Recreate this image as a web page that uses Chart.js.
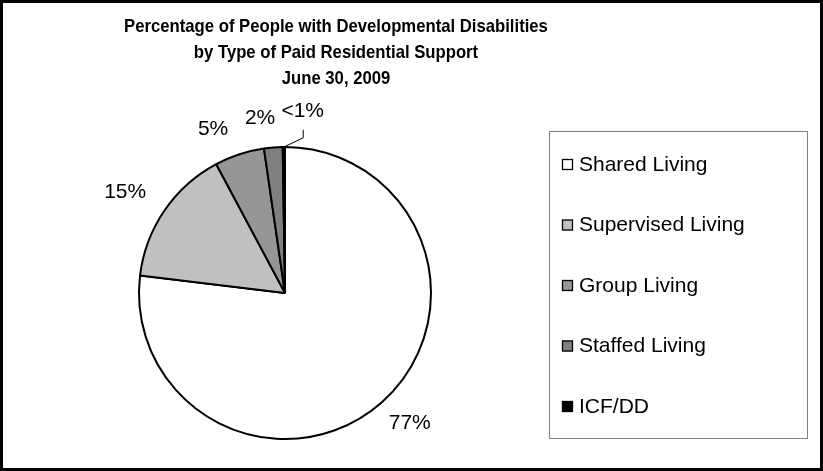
<!DOCTYPE html>
<html lang="en">
<head>
  <meta charset="UTF-8">
  <title>Paid Residential Support</title>
  <script src="https://cdn.jsdelivr.net/npm/chart.js"></script>
  <style>
    html, body { margin: 0; padding: 0; background: #fff; }
    canvas { display: block; }
  </style>
</head>
<body>
<canvas id="pieChart" width="823" height="471"></canvas>

<script>
  // data
  const categories = ['Shared Living', 'Supervised Living', 'Group Living', 'Staffed Living', 'ICF/DD'];
  const shares = [76.9, 15.3, 5.5, 2.05, 0.25];
  const pctLabels = ['77%', '15%', '5%', '2%', '<1%'];
  const titleLines = [
    'Percentage of People with Developmental Disabilities',
    'by Type of Paid Residential Support',
    'June 30, 2009'
  ];
  const sliceColors = ['#ffffff', '#c0c0c0', '#969696', '#808080', '#000000'];

  const FONT = '"Liberation Sans", Arial, sans-serif';

  // title, outer frame and boxed legend
  const frame = {
    id: 'frame',
    beforeDraw(chart) {
      const ctx = chart.ctx;
      ctx.save();
      ctx.fillStyle = '#fff';
      ctx.fillRect(0, 0, chart.width, chart.height);
      ctx.restore();
    },
    afterDraw(chart, args, opts) {
      const ctx = chart.ctx;
      ctx.save();
      // outer border
      ctx.strokeStyle = '#000';
      ctx.lineWidth = 3;
      ctx.strokeRect(1.5, 1.5, chart.width - 3, chart.height - 3);

      // title (the original glyphs are a bit taller than plain Arial)
      ctx.fillStyle = '#000';
      ctx.font = 'bold 16.7px ' + FONT;
      ctx.textAlign = 'center';
      ctx.textBaseline = 'middle';
      titleLines.forEach((line, i) => {
        ctx.save();
        ctx.translate(opts.titleX, opts.titleY + i * 26);
        ctx.scale(1, 1.12);
        ctx.fillText(line, 0, 0);
        ctx.restore();
      });

      // legend box
      const lb = opts.legendBox;
      ctx.strokeStyle = '#808080';
      ctx.lineWidth = 1;
      ctx.strokeRect(lb.x + 0.5, lb.y + 0.5, lb.w, lb.h);
      ctx.font = '21px ' + FONT;
      ctx.textAlign = 'left';
      const ds = chart.data.datasets[0];
      chart.data.labels.forEach((lab, i) => {
        const cy = lb.firstY + i * lb.step;
        ctx.fillStyle = ds.backgroundColor[i];
        ctx.fillRect(lb.x + 13, cy - 5, 11, 11);
        ctx.strokeStyle = '#000';
        ctx.lineWidth = 1.3;
        ctx.strokeRect(lb.x + 13.5, cy - 4.5, 10, 10);
        ctx.fillStyle = '#000';
        ctx.fillText(lab, lb.x + 30, cy + 1);
      });
      ctx.restore();
    }
  };

  // percentage labels placed around the slices
  const sliceLabels = {
    id: 'sliceLabels',
    afterDatasetsDraw(chart, args, opts) {
      const ctx = chart.ctx;
      const meta = chart.getDatasetMeta(0);
      ctx.save();
      ctx.font = '21px ' + FONT;
      ctx.fillStyle = '#000';
      ctx.textAlign = 'center';
      ctx.textBaseline = 'middle';
      meta.data.forEach((arc, i) => {
        const p = arc.getProps(['x', 'y', 'startAngle', 'endAngle', 'outerRadius'], true);
        const mid = (p.startAngle + p.endAngle) / 2;
        const shift = opts.shift[i];
        const a = mid + shift[0] * Math.PI / 180;
        const lx = p.x + Math.cos(a) * shift[1];
        const ly = p.y + Math.sin(a) * shift[1];
        ctx.fillText(pctLabels[i], lx, ly);
        if (opts.leader[i]) {
          const ex = p.x + Math.cos(mid) * p.outerRadius;
          const ey = p.y + Math.sin(mid) * p.outerRadius;
          ctx.beginPath();
          ctx.strokeStyle = '#000';
          ctx.lineWidth = 1;
          ctx.moveTo(lx + 0.5, ly + 19);
          ctx.lineTo(lx + 0.5, ly + 27);
          ctx.lineTo(ex, ey);
          ctx.stroke();
        }
      });
      ctx.restore();
    }
  };

  const ctx = document.getElementById('pieChart').getContext('2d');
  new Chart(ctx, {
    type: 'pie',
    data: {
      labels: categories,
      datasets: [{
        data: shares,
        backgroundColor: sliceColors,
        borderColor: '#000',
        borderWidth: 2
      }]
    },
    options: {
      responsive: false,
      animation: false,
      layout: { padding: { left: 138, right: 391, top: 146, bottom: 31 } },
      plugins: {
        legend: { display: false },
        tooltip: { enabled: false },
        frame: {
          titleX: 336,
          titleY: 27,
          legendBox: { x: 549, y: 131, w: 258, h: 307, firstY: 164, step: 60.5 }
        },
        sliceLabels: {
          shift: [[-2.3, 180], [-2.1, 189], [-5.5, 179], [-3.5, 177], [6.0, 183]],
          leader: [false, false, false, false, true]
        }
      }
    },
    plugins: [frame, sliceLabels]
  });
</script>
</body>
</html>
